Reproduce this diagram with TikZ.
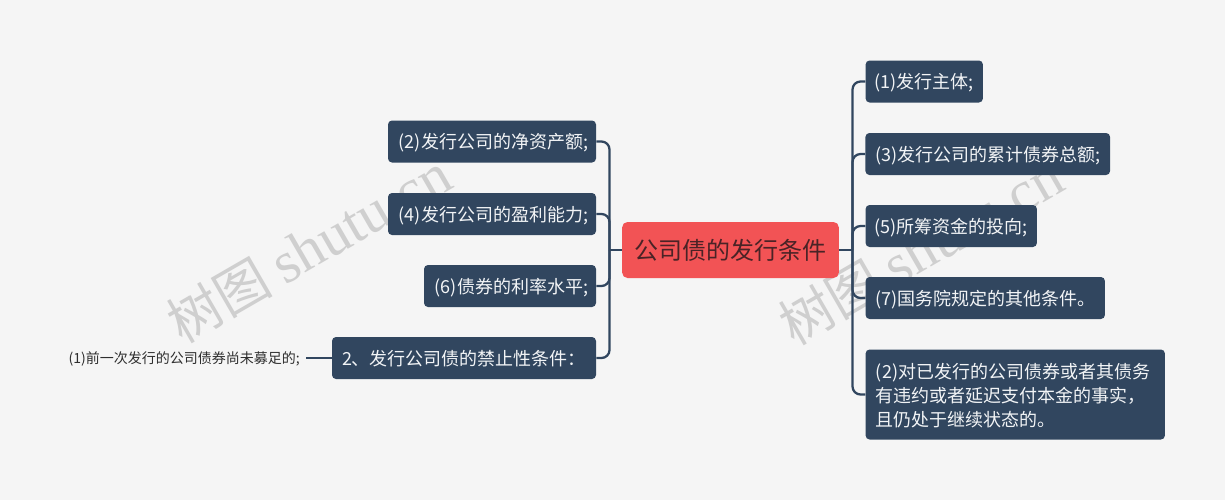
\documentclass[tikz,border=0pt]{standalone}
\usepackage{fontspec}
\setmainfont{Noto Sans CJK SC}
\newfontfamily\wmlatin{Liberation Serif}
\definecolor{bgc}{HTML}{F5F5F5}
\definecolor{navy}{HTML}{31465F}
\definecolor{rootc}{HTML}{F25355}
\definecolor{roott}{HTML}{4A2326}
\definecolor{wmc}{HTML}{CFCFCF}
\definecolor{smallt}{HTML}{2E2E2E}
\definecolor{nodet}{HTML}{F2F4F6}
\tikzset{
  x=0.75pt,y=-0.75pt,
  box/.style={fill=navy,text=nodet,rounded corners=3pt,inner sep=0pt,font=\fontsize{13.5pt}{18pt}\selectfont,minimum height=31.5pt,text height=13.6pt,text depth=3pt},
  leftpad/.style={execute at begin node=\kern2.2pt},
  multibox/.style={fill=navy,text=nodet,rounded corners=3pt,inner sep=0pt,font=\fontsize{13.5pt}{18pt}\selectfont,minimum height=67.5pt,align=left},
  rootbox/.style={fill=rootc,text=roott,rounded corners=4pt,inner sep=0pt,font=\fontsize{18pt}{24pt}\selectfont,minimum width=162.5pt,minimum height=42pt},
  plain/.style={text=smallt,inner sep=4.5pt,font=\fontsize{10.5pt}{14pt}\selectfont,text height=10.6pt,text depth=2.4pt},
  conn/.style={draw=navy,line width=1.7pt},
  branch/.style={conn,rounded corners=6pt},
  wm/.style={text=wmc,rotate=30,inner sep=0pt,font=\fontsize{40pt}{50pt}\selectfont}
}
\begin{document}
\begin{tikzpicture}
\fill[bgc] (0,0) rectangle (1225,500);
\useasboundingbox (0,0) rectangle (1225,500);
\node[wm] (wa) at (309,248) {树图 {\wmlatin\fontsize{44pt}{50pt}\selectfont shutu.cn}};
\node[wm] (wb) at (921,250) {树图 {\wmlatin\fontsize{44pt}{50pt}\selectfont shutu.cn}};

\node[rootbox] (root) at (730.5,250) {公司债的发行条件};
\coordinate (jl) at (609.5,250);
\coordinate (jr) at (852.5,250);

\node[box,leftpad,minimum width=156pt] (l1) at (492,141.5) {(2)发行公司的净资产额;};
\node[box,leftpad,minimum width=156pt] (l2) at (492,214) {(4)发行公司的盈利能力;};
\node[box,leftpad,minimum width=129pt] (l3) at (510,286) {(6)债券的利率水平;};
\node[box,minimum width=198pt] (l4) at (464,358) {2、发行公司债的禁止性条件：};
\node[plain,anchor=east] (s1) at (306,358) {(1)前一次发行的公司债券尚未募足的;};

\node[box,minimum width=88pt] (r1) at (924.25,81.5) {(1)发行主体;};
\node[box,minimum width=183.5pt] (r2) at (987.75,154) {(3)发行公司的累计债券总额;};
\node[box,minimum width=128.5pt] (r3) at (951.25,226) {(5)所筹资金的投向;};
\node[box,minimum width=179.5pt] (r4) at (985.25,298) {(7)国务院规定的其他条件。};
\node[multibox,minimum width=224.5pt,text width=209pt] (r5) at (1015.25,394.5) {\rule{0pt}{12.8pt}(2)对已发行的公司债券或者其债务\\有违约或者延迟支付本金的事实，\\且仍处于继续状态的。};

\draw[conn] (root.west) -- (jl);
\draw[conn] (root.east) -- (jr);
\foreach \n in {l1,l2,l3,l4} \draw[branch] (jl) |- (\n.east);
\foreach \n in {r1,r2,r3,r4,r5} \draw[branch] (jr) |- (\n.west);
\draw[conn] (s1.east) -- (l4.west);
\end{tikzpicture}
\end{document}
